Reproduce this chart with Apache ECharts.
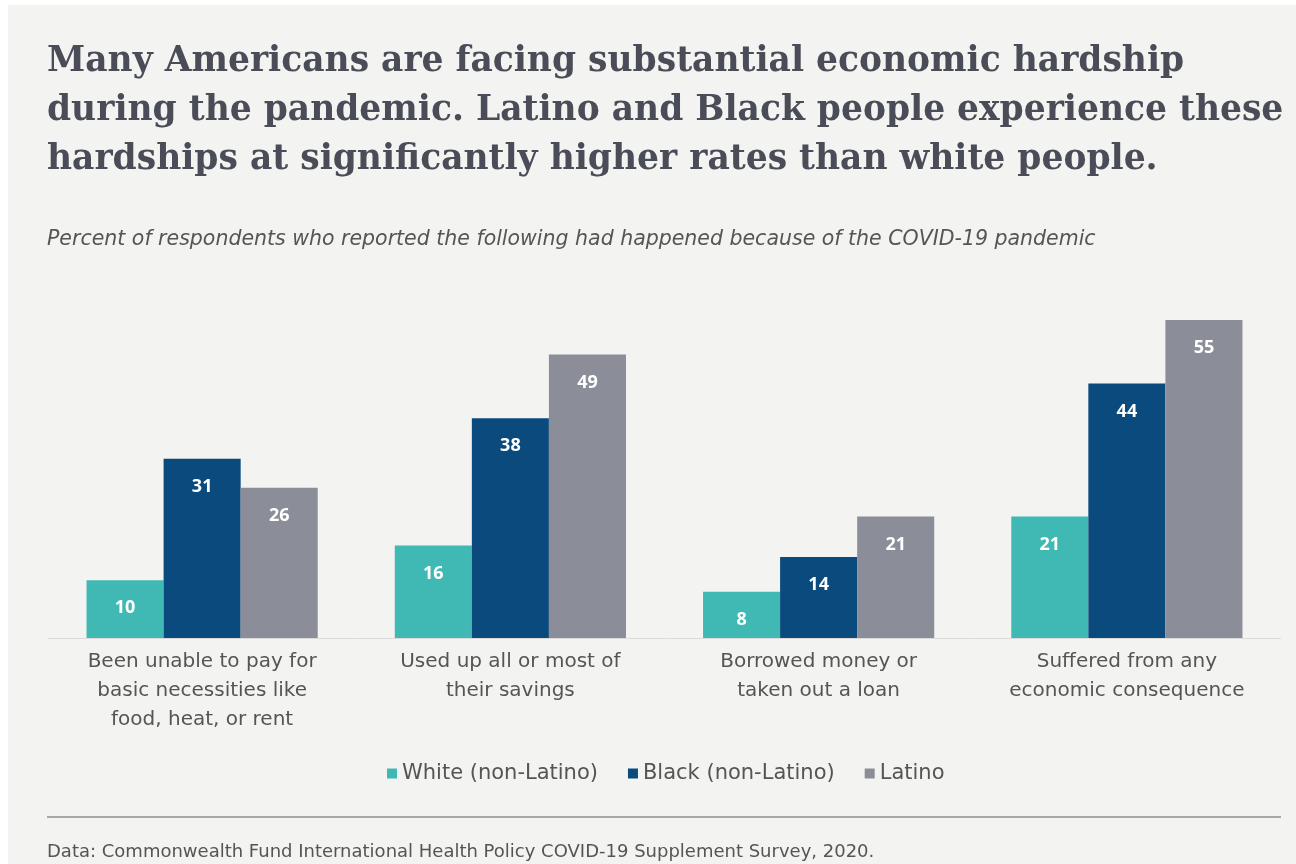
<!DOCTYPE html>
<html>
<head>
<meta charset="utf-8">
<script src="https://cdn.jsdelivr.net/npm/echarts@6/dist/echarts.min.js"></script>
<style>
  html, body { margin: 0; padding: 0; background: #ffffff; }
  #chart { width: 1296px; height: 864px; }
</style>
</head>
<body>
<div id="chart"></div>
<script>
// data
var categories = [
  'Been unable to pay for\nbasic necessities like\nfood, heat, or rent',
  'Used up all or most of\ntheir savings',
  'Borrowed money or\ntaken out a loan',
  'Suffered from any\neconomic consequence'
];
var seriesNames = ['White (non-Latino)', 'Black (non-Latino)', 'Latino'];
var whiteVals = [10, 16, 8, 21];
var blackVals = [31, 38, 14, 44];
var latinoVals = [26, 49, 21, 55];

var colors = ['#40b8b3', '#0b4a7c', '#8b8e99'];
var allVals = [whiteVals, blackVals, latinoVals];

var myChart = echarts.init(document.getElementById('chart'));

var series = [];
for (var i = 0; i < seriesNames.length; i++) {
  series.push({
    name: seriesNames[i],
    type: 'bar',
    data: allVals[i],
    barGap: '0%',
    barCategoryGap: '25%',
    itemStyle: { color: colors[i] },
    label: {
      show: true,
      position: 'insideTop',
      distance: 19,
      color: '#ffffff',
      fontFamily: 'Open Sans',
      fontWeight: 'bold',
      fontSize: 18
    }
  });
}

myChart.setOption({
  backgroundColor: '#f3f3f1',
  animation: false,
  title: [
    {
      text: 'Many Americans are facing substantial economic hardship\nduring the pandemic. Latino and Black people experience these\nhardships at significantly higher rates than white people.',
      left: 42,
      top: 33,
      textStyle: {
        fontFamily: 'DejaVu Serif',
        fontWeight: 'bold',
        fontSize: 34.5,
        lineHeight: 49,
        color: '#4a4d57'
      }
    },
    {
      text: 'Percent of respondents who reported the following had happened because of the COVID-19 pandemic',
      left: 42,
      top: 225,
      textStyle: {
        fontFamily: 'DejaVu Sans',
        fontStyle: 'italic',
        fontWeight: 'normal',
        fontSize: 20.5,
        color: '#555555'
      }
    },
    {
      text: 'Data: Commonwealth Fund International Health Policy COVID-19 Supplement Survey, 2020.',
      left: 42,
      top: 838,
      textStyle: {
        fontFamily: 'DejaVu Sans',
        fontWeight: 'normal',
        fontSize: 18,
        color: '#555555'
      }
    }
  ],
  legend: {
    data: seriesNames,
    left: 382,
    top: 758,
    itemWidth: 10,
    itemHeight: 10,
    itemGap: 30,
    icon: 'rect',
    textStyle: {
      fontFamily: 'DejaVu Sans',
      fontSize: 21,
      color: '#555555'
    }
  },
  grid: {
    left: 48,
    right: 15,
    top: 291,
    bottom: 226,
    containLabel: false
  },
  xAxis: {
    type: 'category',
    data: categories,
    axisLine: { show: true, lineStyle: { color: '#dcdcdc', width: 1 } },
    axisTick: { show: false },
    axisLabel: {
      color: '#555555',
      fontFamily: 'DejaVu Sans',
      fontSize: 20,
      lineHeight: 29,
      margin: 9,
      interval: 0
    }
  },
  yAxis: {
    type: 'value',
    min: 0,
    max: 60,
    show: false,
    splitLine: { show: false }
  },
  graphic: [
    {
      type: 'line',
      shape: { x1: 47, y1: 817, x2: 1281, y2: 817 },
      style: { stroke: '#a8a8a8', lineWidth: 2 }
    },
    {
      type: 'rect',
      shape: { x: 0, y: 0, width: 8, height: 864 },
      style: { fill: '#ffffff' }
    },
    {
      type: 'rect',
      shape: { x: 0, y: 0, width: 1296, height: 5 },
      style: { fill: '#ffffff' }
    }
  ],
  series: series
});
</script>
</body>
</html>
